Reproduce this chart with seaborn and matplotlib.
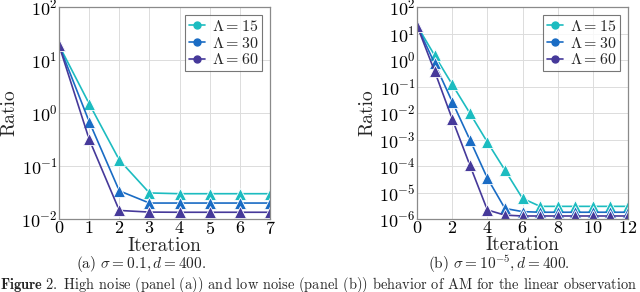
import numpy as np
import pandas as pd
import matplotlib
matplotlib.use("Agg")
import matplotlib.pyplot as plt
from matplotlib.lines import Line2D
import seaborn as sns

# panel (a): sigma = 0.1
iters_a = [0, 1, 2, 3, 4, 5, 6, 7]
lam15_a = [19, 1.5, 0.13, 0.031, 0.030, 0.030, 0.030, 0.030]
lam30_a = [19, 0.69, 0.034, 0.020, 0.020, 0.020, 0.020, 0.020]
lam60_a = [19, 0.32, 0.0145, 0.0135, 0.0134, 0.0134, 0.0134, 0.0134]

# panel (b): sigma = 1e-5
iters_b = [0, 1, 2, 3, 4, 5, 6, 7, 8, 9, 10, 11, 12]
lam15_b = [20, 1.5, 0.12, 0.010, 8e-4, 7e-5, 6e-6, 3e-6, 3e-6, 3e-6, 3e-6, 3e-6, 3e-6]
lam30_b = [20, 0.75, 0.027, 1e-3, 3.5e-5, 2.5e-6, 1.9e-6, 1.8e-6, 1.8e-6, 1.8e-6, 1.8e-6, 1.8e-6, 1.8e-6]
lam60_b = [20, 0.38, 6e-3, 1.1e-4, 2.2e-6, 1.4e-6, 1.3e-6, 1.3e-6, 1.3e-6, 1.3e-6, 1.3e-6, 1.3e-6, 1.3e-6]

labels = [r"$\Lambda = 15$", r"$\Lambda = 30$", r"$\Lambda = 60$"]
colors = ["#1cbcc0", "#1a6cc4", "#46399a"]


def to_frame(iters, series):
    rows = []
    for lab, vals in zip(labels, series):
        for it, v in zip(iters, vals):
            rows.append({"Iteration": it, "Ratio": v, "lam": lab})
    return pd.DataFrame(rows)


df_a = to_frame(iters_a, [lam15_a, lam30_a, lam60_a])
df_b = to_frame(iters_b, [lam15_b, lam30_b, lam60_b])

sns.set_theme(style="whitegrid")
plt.rcParams["font.family"] = ["cmr10", "DejaVu Serif"]
plt.rcParams["mathtext.fontset"] = "cm"
plt.rcParams["axes.formatter.use_mathtext"] = True

fig = plt.figure(figsize=(6.4, 2.92), dpi=100)
W, H = 640, 292
ax_a = fig.add_axes([59 / W, 1 - 219 / H, 211 / W, 212 / H])
ax_b = fig.add_axes([417 / W, 1 - 219 / H, 211 / W, 212 / H])

pal = dict(zip(labels, colors))

for ax, df, xmax, ymin, xt in [
    (ax_a, df_a, 7, 1e-2, range(0, 8)),
    (ax_b, df_b, 12, 1e-6, range(0, 13, 2)),
]:
    sns.lineplot(data=df, x="Iteration", y="Ratio", hue="lam", palette=pal,
                 marker="^", markersize=9, markeredgewidth=0.6, linewidth=1.2,
                 ax=ax, legend=False)
    ax.set_yscale("log")
    ax.set_xlim(0, xmax)
    ax.set_xticks(list(xt))
    ax.yaxis.set_major_locator(matplotlib.ticker.LogLocator(base=10, numticks=20))
    ax.yaxis.set_minor_locator(matplotlib.ticker.NullLocator())
    ax.set_ylim(ymin, 1e2)
    ax.grid(True, color="#dcdcdc", linewidth=0.7)
    for s in ax.spines.values():
        s.set_color("#8a8a8a")
        s.set_linewidth(0.9)
    ax.set_facecolor("white")
    ax.tick_params(axis="both", labelsize=13, pad=1, length=0, colors="black")
    ax.set_xlabel("Iteration", fontsize=14, labelpad=0)
    ax.set_ylabel("Ratio", fontsize=14, labelpad=2)
    handles = [Line2D([], [], color=c, marker="o", markersize=5, linewidth=1.2) for c in colors]
    leg = ax.legend(handles, labels, loc="upper right", fontsize=11.5, frameon=True,
                    fancybox=False, edgecolor="#555555", handlelength=1.0,
                    handletextpad=0.4, borderpad=0.25, labelspacing=0.1,
                    borderaxespad=0.5)
    leg.get_frame().set_linewidth(0.8)

fig.text(141 / W, 1 - 264 / H, r"(a) $\sigma = 0.1, d = 400.$", ha="center", va="center", fontsize=11)
fig.text(499 / W, 1 - 264 / H, r"(b) $\sigma = 10^{-5}, d = 400.$", ha="center", va="center", fontsize=11)
fig.text(0, 1 - 285 / H, r"$\mathbf{Figure\ 2.}$ High noise (panel (a)) and low noise (panel (b)) behavior of AM for the linear observation",
         ha="left", va="center", fontsize=10.4)

fig.savefig("out.png", dpi=100, facecolor="white")
